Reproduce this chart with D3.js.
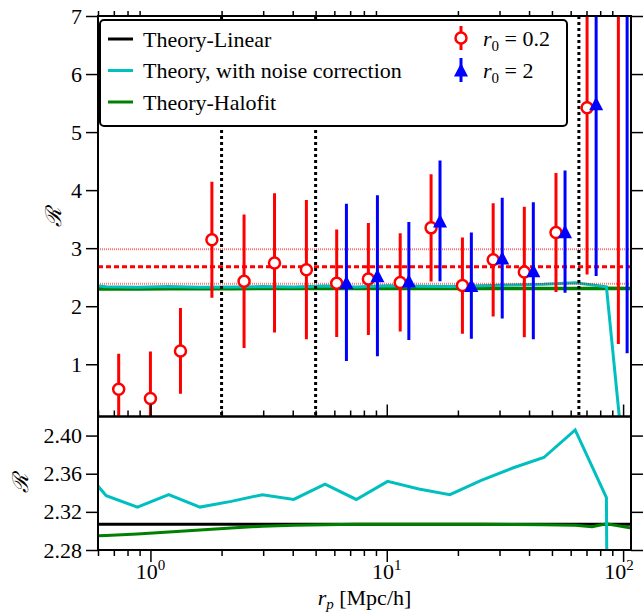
<!DOCTYPE html>
<html>
<head>
<meta charset="utf-8">
<script src="https://cdn.jsdelivr.net/npm/d3@7"></script>
<style>
  body { margin: 0; background: #fff; }
  text { font-family: "Liberation Serif", "Times New Roman", serif; fill: #000; }
</style>
</head>
<body>
<svg id="chart" width="643" height="615"></svg>
<script>
// theory curves (ratio R vs r_p)
const theoryR = [0.479, 0.65, 0.881, 1.195, 1.62, 2.197, 2.98, 4.04, 5.48, 7.43, 10.08, 13.67, 18.5, 25.1, 34.1, 46.2, 62.7, 85.0, 115.3];
const theoryLinear = [2.307, 2.307, 2.307, 2.307, 2.307, 2.307, 2.307, 2.307, 2.307, 2.307, 2.307, 2.307, 2.307, 2.307, 2.307, 2.307, 2.307, 2.307, 2.307];
const theoryNoise = [2.375, 2.337, 2.325, 2.338, 2.325, 2.331, 2.338, 2.333, 2.349, 2.333, 2.352, 2.344, 2.338, 2.353, 2.366, 2.377, 2.406, 2.335, -3.1];
const halofitR = [0.479, 0.65, 0.881, 1.195, 1.62, 2.197, 2.98, 4.04, 5.48, 7.43, 10.08, 13.67, 18.5, 25.1, 34.1, 46.2, 62.7, 74.0, 85.0, 115.3];
const theoryHalofit = [2.294, 2.2953, 2.2967, 2.2988, 2.301, 2.303, 2.305, 2.306, 2.3066, 2.307, 2.307, 2.307, 2.307, 2.307, 2.3068, 2.3065, 2.306, 2.3045, 2.3075, 2.302];

// measurements, r0 = 0.2
const redR = [0.734, 1.0, 1.34, 1.82, 2.49, 3.35, 4.57, 6.14, 8.36, 11.4, 15.4, 20.9, 28.2, 38.2, 52.0, 70.4, 95.5];
const redY = [0.571, 0.41, 1.23, 3.146, 2.43, 2.746, 2.63, 2.395, 2.47, 2.41, 3.35, 2.356, 2.80, 2.59, 3.27, 5.42, 7.1];
const redErr = [0.61, 0.81, 0.74, 1.0, 1.15, 1.2, 1.2, 0.925, 0.965, 0.845, 0.925, 0.83, 0.975, 1.125, 1.025, 2.875, 5.75];

// measurements, r0 = 2
const blueR = [6.75, 9.13, 12.4, 16.8, 22.8, 30.8, 41.7, 56.8, 76.9, 104];
const blueY = [2.41, 2.525, 2.435, 3.47, 2.355, 2.83, 2.61, 3.285, 5.49, 7.6];
const blueErr = [1.355, 1.385, 1.015, 1.04, 0.915, 1.04, 1.18, 1.055, 2.97, 6.41];

// mean ratio and its band
const meanR = 2.68;
const meanBand = [2.385, 2.98];
// scale cuts
const cutLines = [2, 5, 65];

const topTicks = [1, 2, 3, 4, 5, 6, 7];
const botTicks = [2.28, 2.32, 2.36, 2.40];
const xMajor = [1, 10, 100];
const xMinor = [0.6, 0.7, 0.8, 0.9, 2, 3, 4, 5, 6, 7, 8, 9, 20, 30, 40, 50, 60, 70, 80, 90];

const pLeft = 98, pRight = 631, pTop = 16, pMid = 416.5, pBottom = 550;

const svg = d3.select("#chart");

const x = d3.scaleLog().domain([0.6, 108]).range([pLeft, pRight]);
const yTop = d3.scaleLinear().domain([0.1, 7]).range([pMid, pTop]);
const yBot = d3.scaleLinear().domain([2.28, 2.42]).range([pBottom, pMid]);

const defs = svg.append("defs");
defs.append("clipPath").attr("id", "clipTop")
    .append("rect").attr("x", pLeft).attr("y", pTop).attr("width", pRight - pLeft).attr("height", pMid - pTop);
defs.append("clipPath").attr("id", "clipBot")
    .append("rect").attr("x", pLeft).attr("y", pMid).attr("width", pRight - pLeft).attr("height", pBottom - pMid);

function styleAxis(g) {
    g.select(".domain").remove();
    g.selectAll(".tick line").attr("stroke", "#000").attr("stroke-width", 1.5);
    g.selectAll(".tick text").style("font-size", "22px").attr("fill", "#000");
}

// ---------- top panel ----------
const gTop = svg.append("g").attr("clip-path", "url(#clipTop)");

const lineTop = (ys, xs) => d3.line().x((d, i) => x(xs[i])).y(d => yTop(d))(ys);

gTop.append("path").attr("d", lineTop(theoryLinear, theoryR))
    .attr("fill", "none").attr("stroke", "#000").attr("stroke-width", 3);
gTop.append("path").attr("d", lineTop(theoryHalofit, halofitR))
    .attr("fill", "none").attr("stroke", "#008000").attr("stroke-width", 3.5);
gTop.append("path").attr("d", lineTop(theoryNoise, theoryR))
    .attr("fill", "none").attr("stroke", "#00bfbf").attr("stroke-width", 3);

// mean and band
meanBand.forEach(v => {
    gTop.append("line")
        .attr("x1", pLeft).attr("x2", pRight).attr("y1", yTop(v)).attr("y2", yTop(v))
        .attr("stroke", "#ff0000").attr("stroke-opacity", 0.55)
        .attr("stroke-width", 2).attr("stroke-dasharray", "1,1");
});
gTop.append("line")
    .attr("x1", pLeft).attr("x2", pRight).attr("y1", yTop(meanR)).attr("y2", yTop(meanR))
    .attr("stroke", "#ff0000").attr("stroke-width", 3).attr("stroke-dasharray", "5,3");

// vertical cuts
gTop.selectAll(".cut")
    .data(cutLines)
    .enter().append("line")
    .attr("class", "cut")
    .attr("x1", d => x(d)).attr("x2", d => x(d))
    .attr("y1", pTop).attr("y2", pMid)
    .attr("stroke", "#000").attr("stroke-width", 3).attr("stroke-dasharray", "3,3");

// error bars
function drawSeries(rs, ys, errs, color, marker) {
    const g = gTop.append("g");
    g.selectAll("line")
        .data(rs)
        .enter().append("line")
        .attr("x1", d => x(d)).attr("x2", d => x(d))
        .attr("y1", (d, i) => yTop(ys[i] - errs[i]))
        .attr("y2", (d, i) => yTop(ys[i] + errs[i]))
        .attr("stroke", color).attr("stroke-width", 3);
    if (marker === "circle") {
        g.selectAll("circle")
            .data(rs)
            .enter().append("circle")
            .attr("cx", d => x(d)).attr("cy", (d, i) => yTop(ys[i]))
            .attr("r", 5.5)
            .attr("fill", "#fff").attr("stroke", color).attr("stroke-width", 2.5);
    } else {
        g.selectAll("path")
            .data(rs)
            .enter().append("path")
            .attr("d", (d, i) => {
                const cx = x(d), cy = yTop(ys[i]);
                return `M${cx},${cy - 7}L${cx + 7},${cy + 6.5}L${cx - 7},${cy + 6.5}Z`;
            })
            .attr("fill", color);
    }
}
drawSeries(redR, redY, redErr, "#ff0000", "circle");
drawSeries(blueR, blueY, blueErr, "#0000ff", "triangle");

// ---------- bottom panel ----------
svg.append("rect").attr("x", pLeft).attr("y", pMid).attr("width", pRight - pLeft).attr("height", pBottom - pMid)
    .attr("fill", "#fff");
const gBot = svg.append("g").attr("clip-path", "url(#clipBot)");
const lineBot = (ys, xs) => d3.line().x((d, i) => x(xs[i])).y(d => yBot(d))(ys);

gBot.append("path").attr("d", lineBot(theoryLinear, theoryR))
    .attr("fill", "none").attr("stroke", "#000").attr("stroke-width", 3);
gBot.append("path").attr("d", lineBot(theoryHalofit, halofitR))
    .attr("fill", "none").attr("stroke", "#008000").attr("stroke-width", 3);
gBot.append("path").attr("d", lineBot(theoryNoise, theoryR))
    .attr("fill", "none").attr("stroke", "#00bfbf").attr("stroke-width", 3);

// ---------- axes ----------
svg.append("g").attr("transform", `translate(${pLeft},0)`)
    .call(d3.axisLeft(yTop).tickValues(topTicks).tickSize(12).tickPadding(4).tickFormat(d3.format("d")))
    .call(styleAxis);
svg.append("g").attr("transform", `translate(${pRight},0)`)
    .call(d3.axisRight(yTop).tickValues(topTicks).tickSize(12).tickFormat(""))
    .call(styleAxis);
svg.append("g").attr("transform", `translate(${pLeft},0)`)
    .call(d3.axisLeft(yBot).tickValues(botTicks).tickSize(12).tickPadding(4).tickFormat(d3.format(".2f")))
    .call(styleAxis);
svg.append("g").attr("transform", `translate(${pRight},0)`)
    .call(d3.axisRight(yBot).tickValues(botTicks).tickSize(12).tickFormat(""))
    .call(styleAxis);

// x ticks: bottom of lower panel
svg.append("g").attr("transform", `translate(0,${pBottom})`)
    .call(d3.axisBottom(x).tickValues(xMajor).tickSize(12).tickFormat(""))
    .call(styleAxis);
svg.append("g").attr("transform", `translate(0,${pBottom})`)
    .call(d3.axisBottom(x).tickValues(xMinor).tickSize(6).tickFormat(""))
    .call(styleAxis);
// x ticks: between panels (pointing up)
svg.append("g").attr("transform", `translate(0,${pMid})`)
    .call(d3.axisTop(x).tickValues(xMajor).tickSize(12).tickFormat(""))
    .call(styleAxis);
svg.append("g").attr("transform", `translate(0,${pMid})`)
    .call(d3.axisTop(x).tickValues(xMinor).tickSize(6).tickFormat(""))
    .call(styleAxis);
// x ticks: top of upper panel, minor only
svg.append("g").attr("transform", `translate(0,${pTop})`)
    .call(d3.axisTop(x).tickValues(xMinor).tickSize(5).tickFormat(""))
    .call(styleAxis);

// x tick labels as powers of ten
const xLabels = svg.append("g");
xMajor.forEach(v => {
    const t = xLabels.append("text")
        .attr("x", x(v) - (v === 100 ? 4 : 0)).attr("y", 579)
        .attr("text-anchor", "middle")
        .style("font-size", "22px");
    t.append("tspan").text("10");
    t.append("tspan").attr("dy", -9).style("font-size", "15px").text(Math.round(Math.log10(v)));
});

// frames
[[pTop, pMid], [pMid, pBottom]].forEach(([y0, y1]) => {
    svg.append("rect")
        .attr("x", pLeft).attr("y", y0).attr("width", pRight - pLeft).attr("height", y1 - y0)
        .attr("fill", "none").attr("stroke", "#000").attr("stroke-width", 2);
});

// axis titles
const xTitle = svg.append("text")
    .attr("x", (pLeft + pRight) / 2).attr("y", 605)
    .attr("text-anchor", "middle")
    .style("font-size", "22px");
xTitle.append("tspan").style("font-style", "italic").text("r");
xTitle.append("tspan").attr("dy", 4).style("font-size", "15px").style("font-style", "italic").text("p");
xTitle.append("tspan").attr("dy", -4).text(" [Mpc/h]");

[[53, 217], [20, 483]].forEach(([cx, cy]) => {
    svg.append("text")
        .attr("transform", `translate(${cx},${cy}) rotate(-90)`)
        .attr("text-anchor", "middle").attr("dy", "0.35em")
        .style("font-size", "22px")
        .style("font-family", "'DejaVu Serif', serif")
        .style("font-style", "italic")
        .text("ℛ");
});

// ---------- legend ----------
const legend = svg.append("g");
legend.append("rect")
    .attr("x", 100).attr("y", 20).attr("width", 467).attr("height", 106).attr("rx", 4)
    .attr("fill", "#fff").attr("stroke", "#000").attr("stroke-width", 2);

const lineEntries = [
    { label: "Theory-Linear", color: "#000" },
    { label: "Theory, with noise correction", color: "#00bfbf" },
    { label: "Theory-Halofit", color: "#008000" }
];
lineEntries.forEach((e, i) => {
    const yy = 39 + i * 31.5;
    legend.append("line").attr("x1", 108).attr("x2", 133).attr("y1", yy).attr("y2", yy)
        .attr("stroke", e.color).attr("stroke-width", 3);
    legend.append("text").attr("x", 143).attr("y", yy + 7.5).style("font-size", "22px").text(e.label);
});

const markerEntries = [
    { r0: "0.2", color: "#ff0000", marker: "circle" },
    { r0: "2", color: "#0000ff", marker: "triangle" }
];
markerEntries.forEach((e, i) => {
    const yy = 38 + i * 32, mx = 461;
    legend.append("line").attr("x1", mx).attr("x2", mx).attr("y1", yy - 12).attr("y2", yy + 12)
        .attr("stroke", e.color).attr("stroke-width", 3);
    if (e.marker === "circle") {
        legend.append("circle").attr("cx", mx).attr("cy", yy).attr("r", 5.5)
            .attr("fill", "#fff").attr("stroke", e.color).attr("stroke-width", 2.5);
    } else {
        legend.append("path").attr("d", `M${mx},${yy - 7}L${mx + 7},${yy + 6.5}L${mx - 7},${yy + 6.5}Z`)
            .attr("fill", e.color);
    }
    const t = legend.append("text").attr("x", 483).attr("y", yy + 8).style("font-size", "22px");
    t.append("tspan").style("font-style", "italic").text("r");
    t.append("tspan").attr("dy", 5).style("font-size", "15px").text("0");
    t.append("tspan").attr("dy", -5).attr("xml:space", "preserve").text(" = " + e.r0);
});
</script>
</body>
</html>
